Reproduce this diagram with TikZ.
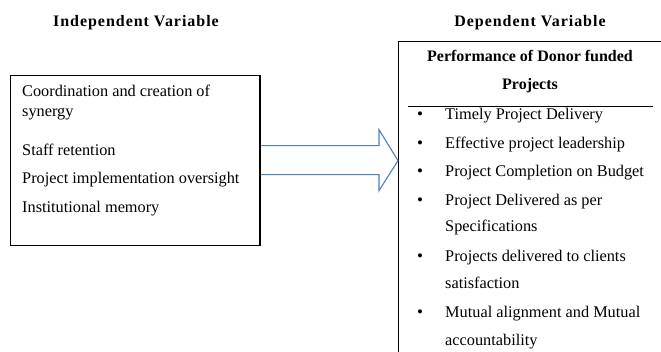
\documentclass[tikz,border=0pt]{standalone}
\usepackage{fontspec}
\setmainfont{Liberation Serif}
\newfontfamily\titlefont{Liberation Serif}[LetterSpace=6]
\usetikzlibrary{calc}
\definecolor{arrowblue}{RGB}{79,129,189}
\begin{document}
\begin{tikzpicture}[x=1pt,y=-1pt,
  txt/.style={anchor=base west,inner sep=0pt,font=\fontsize{16.3}{18}\selectfont},
  ctxt/.style={anchor=base,inner sep=0pt,font=\fontsize{16}{18}\selectfont\bfseries},
  ttxt/.style={anchor=base,inner sep=0pt,font=\fontsize{16}{18}\titlefont\bfseries},
  bul/.style={anchor=base,inner sep=0pt,font=\fontsize{17}{17}\selectfont},
  boxstyle/.style={draw,line width=1.3pt,inner sep=0pt,anchor=north west}]
\useasboundingbox (0,0) rectangle (661,352);
\clip (0,0) rectangle (661,352);
% titles
\node[ttxt] (t1) at (136,27) {Independent Variable};
\node[ttxt] (t2) at (530,27) {Dependent Variable};
% boxes
\node[boxstyle,minimum width=249pt,minimum height=170pt] (iv) at (10,75) {};
\node[boxstyle,minimum width=300pt,minimum height=400pt] (dv) at (398,41) {};
% arrow
\coordinate (tip) at (dv.west |- iv.east);
\draw[arrowblue,line width=1.1pt,fill=white,line join=miter]
  ($(iv.east)+(0,-15)$) -- ($(tip)+(-19,-15)$) -- ($(tip)+(-19,-31)$) -- (tip)
  -- ($(tip)+(-19,30)$) -- ($(tip)+(-19,14)$) -- ($(iv.east)+(0,14)$);
\draw[line width=1.3pt] (iv.north east) -- (iv.south east);
% left texts
\node[txt] (a1) at (22,97) {Coordination and creation of};
\node[txt] (a2) at (22,117) {synergy};
\node[txt] (a3) at (22,156) {Staff retention};
\node[txt] (a4) at (22,184) {Project implementation oversight};
\node[txt] (a5) at (22,213) {Institutional memory};
% right header
\node[ctxt] (h1) at (530,62) {Performance of Donor funded};
\node[ctxt] (h2) at (530,90) {Projects};
\coordinate (sepL) at (408,106);
\coordinate (sepR) at (653,106);
\draw[line width=0.8pt] (sepL) -- (sepR);
% bullets
\foreach \y/\n in {120/b1,149/b2,177/b3,206/b4,262/b5,318/b6}{
  \node[bul] (\n) at (420,\y) {•};
}
\node[txt] (c1) at (445,120) {Timely Project Delivery};
\node[txt] (c2) at (445,149) {Effective project leadership};
\node[txt] (c3) at (445,177) {Project Completion on Budget};
\node[txt] (c4) at (445,206) {Project Delivered as per};
\node[txt] (c5) at (445,232) {Specifications};
\node[txt] (c6) at (445,262) {Projects delivered to clients};
\node[txt] (c7) at (445,289) {satisfaction};
\node[txt] (c8) at (445,318) {Mutual alignment and Mutual};
\node[txt] (c9) at (445,345) {accountability};
\end{tikzpicture}
\end{document}
